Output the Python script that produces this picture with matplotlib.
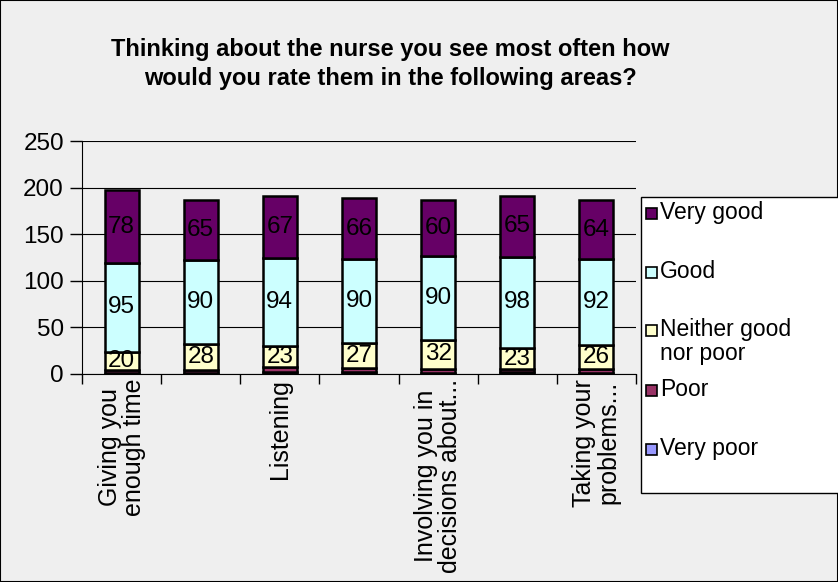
import matplotlib.pyplot as plt
from matplotlib.patches import Rectangle
import numpy as np

plt.rcParams["font.family"] = ["Liberation Sans", "DejaVu Sans"]

categories = [
    "Giving you\nenough time",
    "",
    "Listening",
    "",
    "Involving you in\ndecisions about...",
    "",
    "Taking your\nproblems...",
]
series_names = ["Very poor", "Poor", "Neither good\nnor poor", "Good", "Very good"]
very_poor = [1, 1, 2, 2, 1, 2, 1]
poor = [3, 3, 5, 4, 4, 3, 4]
neither = [20, 28, 23, 27, 32, 23, 26]
good = [95, 90, 94, 90, 90, 98, 92]
very_good = [78, 65, 67, 66, 60, 65, 64]
colors = ["#9999ff", "#993366", "#ffffcc", "#ccffff", "#660066"]
labelled = [False, False, True, True, True]

bg = "#efefef"
W, H = 838, 582
fig = plt.figure(figsize=(W / 100, H / 100), dpi=100, facecolor=bg)
fig.add_artist(Rectangle((0, 0), 1, 1, transform=fig.transFigure, fill=False,
                         edgecolor="black", linewidth=1.5, zorder=0))
ax = fig.add_axes([82 / W, 1 - 374 / H, (636 - 82) / W, (374 - 141) / H])
ax.set_facecolor(bg)

x = np.arange(len(categories))
bottom = np.zeros(len(categories))
for name, vals, col, lab in zip(series_names,
                                [very_poor, poor, neither, good, very_good],
                                colors, labelled):
    vals = np.array(vals, dtype=float)
    ax.bar(x, vals, 0.43, bottom=bottom, color=col, edgecolor="black",
           linewidth=1.8, zorder=3)
    if lab:
        for xi, b, v in zip(x, bottom, vals):
            ax.text(xi, b + v / 2, f"{int(v)}", ha="center", va="center",
                    fontsize=17.5, zorder=4)
    bottom += vals

ax.set_xlim(-0.5, len(categories) - 0.5)
ax.set_ylim(0, 250)
ax.set_yticks(range(0, 251, 50))
ax.tick_params(axis="y", labelsize=17.5, direction="out", length=9, width=1,
               pad=4)
ax.yaxis.grid(True, color="black", linewidth=0.8, zorder=0)
ax.set_axisbelow(True)

ax.set_xticks(np.arange(-0.5, len(categories), 1))
ax.set_xticklabels([])
ax.tick_params(axis="x", direction="out", length=7, width=1)
for xi, c in zip(x, categories):
    if c:
        ax.text(xi, -5, c, rotation=90, ha="center", va="top", fontsize=18,
                linespacing=1.0)

for side in ["top", "right"]:
    ax.spines[side].set_visible(False)

fig.text(390 / W, 1 - 64 / H, "Thinking about the nurse you see most often how\n"
         "would you rate them in the following areas?",
         ha="center", va="center", fontsize=17, fontweight="bold",
         linespacing=1.3)

# legend box drawn by hand to follow the original spacing; runs off the right edge
fig.add_artist(Rectangle((641 / W, 1 - 493 / H), 260 / W, 296 / H,
                         transform=fig.transFigure, facecolor="white",
                         edgecolor="black", linewidth=1, zorder=5))
legend_y = [213, 272, 330, 390, 449]
for name, col, yy in zip(series_names[::-1], colors[::-1], legend_y):
    fig.add_artist(Rectangle((646 / W, 1 - (yy + 6) / H), 11 / W, 11 / H,
                             transform=fig.transFigure, facecolor=col,
                             edgecolor="black", linewidth=1.2, zorder=6))
    fig.text(660 / W, 1 - (yy - 12) / H, name, ha="left", va="top",
             fontsize=16.5, linespacing=1.05, zorder=6)

fig.savefig("out.png", dpi=100, facecolor=bg)
